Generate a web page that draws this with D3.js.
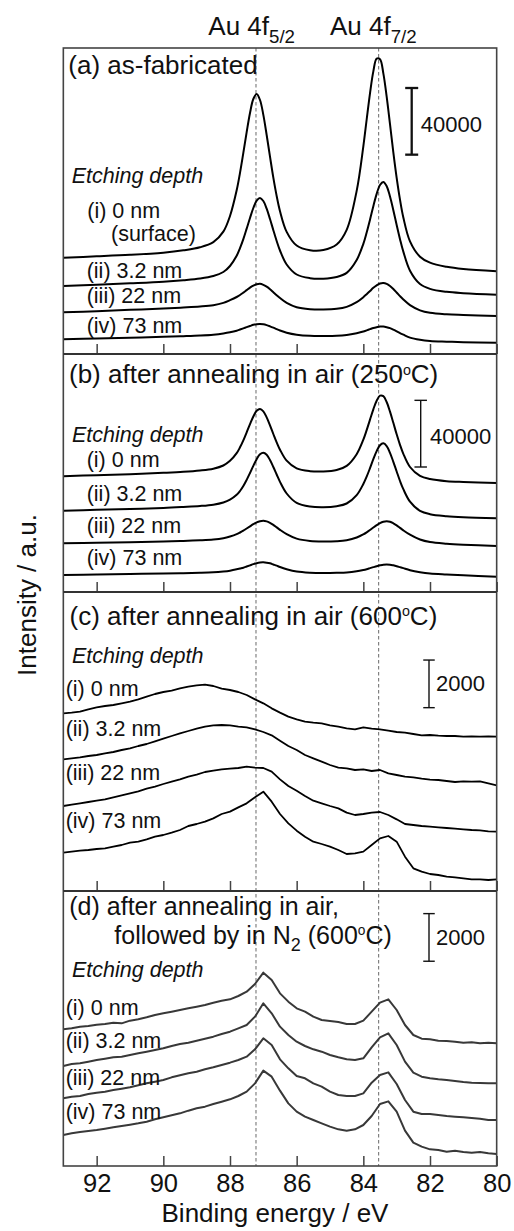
<!DOCTYPE html>
<html>
<head>
<meta charset="utf-8">
<script src="https://cdn.jsdelivr.net/npm/d3@7"></script>
<style>
  html, body { margin: 0; padding: 0; background: #fff; }
  svg text { font-family: "Liberation Sans", Arial, Helvetica, sans-serif; fill: #111; }
</style>
</head>
<body>
<svg id="chart" width="514" height="1231"></svg>
<script>
// Au 4f XPS spectra at four etching depths for four sample treatments.

// Binding-energy sampling (eV): dense around the two Au 4f peaks for the smooth scans (a, b)
const energyFine = [93, 92, 91, 90, 89.4, 88.9, 88.5, 88.2, 88.0, 87.8,
  87.7, 87.6, 87.5, 87.4, 87.3, 87.2, 87.1, 87.0, 86.9, 86.8, 86.7, 86.6, 86.5,
  86.3, 86.0, 85.6, 85.2, 84.8, 84.5, 84.2, 84.0,
  83.9, 83.8, 83.7, 83.6, 83.5, 83.4, 83.3, 83.2, 83.1, 83.0, 82.9, 82.8,
  82.6, 82.3, 82.0, 81.5, 81.0, 80.0];

// Uniform 0.25 eV steps for the noisy scans (c, d)
const energyScan = [93, 92.75, 92.5, 92.25, 92, 91.75, 91.5, 91.25, 91, 90.75,
  90.5, 90.25, 90, 89.75, 89.5, 89.25, 89, 88.75, 88.5, 88.25,
  88, 87.75, 87.5, 87.25, 87, 86.75, 86.5, 86.25, 86, 85.75,
  85.5, 85.25, 85, 84.75, 84.5, 84.25, 84, 83.75, 83.5, 83.25,
  83, 82.75, 82.5, 82.25, 82, 81.75, 81.5, 81.25, 81, 80.75,
  80.5, 80.25, 80];

const xTicks = [92, 90, 88, 86, 84, 82, 80];
const peakRefs = [87.22, 83.54];            // Au 4f5/2, Au 4f7/2 reference positions
const depthLabels = ["(i) 0 nm", "(ii) 3.2 nm", "(iii) 22 nm", "(iv) 73 nm"];
const barA = 40000, barB = 40000, barC = 2000, barD = 2000;   // intensity scale bars (counts)

// (a) as-fabricated  (counts, offset stacked)
const a0  = [57800, 58600, 59500, 60800, 62200, 64000, 67100, 73400, 82800, 98200,
  108700, 120700, 133100, 144600, 153000, 156000, 152400, 143500, 131400, 118400, 105800, 94800, 85700,
  73300, 65100, 62300, 62400, 65700, 74500, 97900, 124600,
  140700, 156400, 169600, 177200, 176900, 168400, 154400, 137900, 121000, 105700, 92600, 81900,
  67600, 58400, 54800, 52300, 51000, 49700];
const a32 = [40800, 41500, 42400, 43400, 44300, 45300, 46800, 49200, 52800, 58900,
  63500, 68900, 75200, 81600, 87600, 92000, 93600, 91800, 87200, 81000, 74300, 67800, 62100,
  53700, 47700, 45500, 45200, 46200, 48700, 56400, 66100,
  72900, 80600, 88700, 96100, 101400, 103200, 100700, 94500, 86300, 77400, 68900, 61400,
  50000, 42000, 39100, 37300, 36500, 35600];
const a22 = [25000, 25700, 26500, 27300, 27900, 28500, 29300, 30700, 32300, 34200,
  35400, 36800, 38300, 39800, 41000, 41800, 42100, 41500, 40400, 38900, 37100, 35300, 33600,
  30700, 28100, 26900, 26700, 27100, 28300, 31100, 34100,
  35900, 37800, 39700, 41200, 42300, 42600, 42100, 40800, 39000, 36900, 34700, 32700,
  29300, 26200, 24700, 23800, 23400, 22800];
const a73 = [8800, 9300, 9800, 10300, 10700, 11100, 11600, 12300, 13000, 14000,
  14700, 15400, 16100, 16800, 17500, 17900, 18000, 17800, 17300, 16600, 15800, 14900, 14100,
  12800, 11600, 10900, 10800, 10900, 11400, 12500, 13500,
  14200, 14900, 15600, 16100, 16500, 16500, 16100, 15500, 14600, 13600, 12500, 11600,
  9800, 8500, 7800, 7400, 7100, 6800];

// (b) after annealing in air, 250 C
const b0  = [69500, 70100, 70700, 71500, 72100, 72900, 74000, 75900, 78700, 83300,
  86800, 91000, 95800, 100700, 105300, 108700, 109800, 108400, 104800, 100000, 94800, 89800, 85400,
  78800, 74200, 72500, 72300, 73200, 75700, 82700, 91400,
  97100, 103400, 109600, 114800, 117800, 117500, 114000, 108200, 101500, 94600, 88300, 82900,
  75000, 69700, 67800, 66500, 66000, 65400];
const b32 = [48800, 49300, 49800, 50400, 51000, 51600, 52400, 53700, 55400, 58300,
  60600, 63600, 67300, 71400, 75700, 79700, 82600, 83600, 82400, 79200, 75000, 70500, 66100,
  59100, 53500, 51300, 50900, 51500, 53100, 58100, 64800,
  69200, 74300, 79700, 84500, 88100, 89200, 87600, 83500, 78100, 72300, 66600, 61700,
  54200, 48700, 46700, 45500, 44900, 44300];
const b22 = [29200, 29500, 29900, 30300, 30600, 31000, 31500, 32300, 33300, 34700,
  35700, 36800, 38100, 39400, 40700, 41800, 42500, 42800, 42400, 41500, 40300, 38800, 37300,
  34700, 32000, 30600, 30300, 30500, 31100, 32700, 34600,
  35800, 37200, 38700, 40100, 41300, 42100, 42400, 42100, 41200, 40000, 38500, 37000,
  34400, 31500, 30000, 29000, 28400, 27600];
const b73 = [10200, 10500, 10800, 11100, 11300, 11500, 11800, 12300, 12800, 13600,
  14100, 14600, 15300, 16000, 16700, 17300, 17700, 17800, 17600, 17200, 16500, 15800, 15000,
  13700, 12300, 11600, 11400, 11500, 11700, 12400, 13200,
  13700, 14300, 14900, 15500, 16000, 16400, 16500, 16400, 16000, 15500, 14900, 14300,
  13100, 11900, 11100, 10500, 10000, 9200];

// (c) after annealing in air, 600 C
const c0  = [7462, 7490, 7532, 7630, 7714, 7770, 7812, 7882, 7952, 8050,
  8162, 8274, 8358, 8414, 8512, 8582, 8638, 8666, 8610, 8498,
  8442, 8358, 8232, 8050, 7882, 7672, 7490, 7322, 7210, 7112,
  7070, 7042, 6958, 6902, 6832, 6790, 6874, 6818, 6790, 6734,
  6678, 6650, 6594, 6538, 6552, 6524, 6510, 6510, 6482, 6496,
  6482, 6496, 6482];
const c32 = [5530, 5572, 5614, 5670, 5712, 5782, 5838, 5922, 5992, 6090,
  6174, 6286, 6398, 6510, 6622, 6720, 6818, 6902, 6958, 6972,
  6958, 6902, 6874, 6790, 6678, 6538, 6314, 6090, 5922, 5712,
  5572, 5432, 5292, 5180, 5152, 5082, 5110, 5040, 5082, 4942,
  4872, 4802, 4774, 4718, 4676, 4662, 4620, 4578, 4606, 4592,
  4606, 4522, 4438];
const c22 = [3570, 3626, 3682, 3738, 3794, 3850, 3934, 4018, 4102, 4186,
  4298, 4382, 4494, 4592, 4690, 4802, 4886, 4998, 5054, 5110,
  5138, 5166, 5222, 5180, 5166, 5012, 4690, 4410, 4214, 3990,
  3794, 3682, 3570, 3472, 3290, 3192, 3234, 3290, 3318, 3192,
  3010, 2814, 2772, 2730, 2702, 2674, 2646, 2618, 2590, 2562,
  2548, 2506, 2492];
const c73 = [1610, 1652, 1694, 1722, 1764, 1792, 1862, 1932, 2030, 2072,
  2170, 2282, 2352, 2450, 2562, 2730, 2814, 2912, 3052, 3234,
  3332, 3514, 3682, 3934, 4172, 3752, 3234, 2842, 2534, 2282,
  2072, 1974, 1862, 1722, 1554, 1582, 1652, 1932, 2212, 2310,
  2072, 1442, 952, 812, 714, 672, 602, 574, 532, 490,
  490, 462, 490];

// (d) after annealing in air, followed by N2, 600 C
const d0  = [5740, 5782, 5852, 5880, 5936, 5964, 6020, 5992, 6104, 6160,
  6244, 6342, 6412, 6482, 6552, 6622, 6692, 6762, 6860, 6944,
  7000, 7140, 7322, 7644, 8120, 7812, 7252, 6902, 6622, 6482,
  6272, 6132, 6090, 6048, 5964, 5964, 6104, 6482, 6860, 7000,
  6552, 5922, 5502, 5348, 5320, 5264, 5250, 5222, 5180, 5194,
  5152, 5180, 5152];
const d32 = [4200, 4284, 4312, 4382, 4452, 4508, 4564, 4592, 4662, 4732,
  4802, 4872, 4942, 5040, 5124, 5180, 5264, 5348, 5432, 5544,
  5642, 5782, 5922, 6272, 6832, 6412, 5852, 5502, 5222, 5040,
  4900, 4802, 4662, 4564, 4480, 4452, 4522, 4984, 5404, 5572,
  5082, 4382, 3920, 3752, 3682, 3640, 3612, 3570, 3528, 3500,
  3486, 3472, 3472];
const d22 = [2842, 2912, 2940, 3024, 3080, 3122, 3192, 3248, 3304, 3388,
  3472, 3542, 3612, 3724, 3808, 3892, 3962, 4060, 4144, 4242,
  4340, 4452, 4592, 4900, 5362, 5082, 4480, 4102, 3780, 3682,
  3472, 3332, 3122, 2982, 2940, 2940, 3052, 3500, 3822, 3934,
  3444, 2772, 2282, 2184, 2184, 2142, 2100, 2072, 2044, 2016,
  1988, 1932, 1932];
const d73 = [1302, 1372, 1428, 1470, 1512, 1568, 1624, 1680, 1736, 1792,
  1862, 1960, 2044, 2128, 2212, 2324, 2422, 2492, 2604, 2702,
  2800, 2940, 3122, 3472, 4004, 3752, 3164, 2632, 2282, 2072,
  1932, 1792, 1652, 1540, 1484, 1540, 1722, 2100, 2604, 2716,
  2282, 1484, 980, 812, 700, 672, 602, 644, 588, 560,
  588, 532, 504];

// ---------------------------------------------------------------- layout
const plotLeft = 63.33, plotRight = 496.67, plotTop = 48, plotBottom = 1166;
const FS_TITLE = 26, FS_LABEL = 21.5;

const panels = [
  { top: 48, bottom: 354, yMax: 183600, energy: energyFine, series: [a0, a32, a22, a73],
    smooth: true, stroke: "#000", lw: 2,
    title: [{ x: 68.3, y: 74, segs: [{ t: "(a) as-fabricated" }] }], titleSize: FS_TITLE,
    etch: [71.7, 182.7],
    labels: [
      { lines: [{ x: 87.3, y: 218.3, t: depthLabels[0] }, { x: 111, y: 240.7, t: "(surface)" }] },
      { lines: [{ x: 86.7, y: 278.3, t: depthLabels[1] }] },
      { lines: [{ x: 86.7, y: 303.3, t: depthLabels[2] }] },
      { lines: [{ x: 86.7, y: 332.7, t: depthLabels[3] }] }],
    bar: { value: barA, base: 119600, x: 411.7, lw: 2.3, cap: 13, lx: 420.7, ly: 131.5 } },
  { top: 354, bottom: 592, yMax: 142800, energy: energyFine, series: [b0, b32, b22, b73],
    smooth: true, stroke: "#000", lw: 2,
    title: [{ x: 69, y: 383.3, segs: [{ t: "(b) after annealing in air (250" }, { t: "o", s: "sup" }, { t: "C)" }] }],
    titleSize: FS_TITLE,
    etch: [72, 441.7],
    labels: [
      { lines: [{ x: 86.7, y: 466.7, t: depthLabels[0] }] },
      { lines: [{ x: 86.7, y: 501, t: depthLabels[1] }] },
      { lines: [{ x: 86.7, y: 533.3, t: depthLabels[2] }] },
      { lines: [{ x: 86.7, y: 565, t: depthLabels[3] }] }],
    bar: { value: barB, base: 75000, x: 420.7, lw: 1.4, cap: 12.5, lx: 430, ly: 444 } },
  { top: 592, bottom: 891, yMax: 12558, energy: energyScan, series: [c0, c32, c22, c73],
    smooth: false, stroke: "#000", lw: 1.8,
    title: [{ x: 69.5, y: 625, segs: [{ t: "(c) after annealing in air (600" }, { t: "o", s: "sup" }, { t: "C)" }] }],
    titleSize: FS_TITLE,
    etch: [72, 662.7],
    labels: [
      { lines: [{ x: 65.7, y: 695.7, t: depthLabels[0] }] },
      { lines: [{ x: 65.7, y: 736, t: depthLabels[1] }] },
      { lines: [{ x: 65.7, y: 780, t: depthLabels[2] }] },
      { lines: [{ x: 65.7, y: 827.7, t: depthLabels[3] }] }],
    bar: { value: barC, base: 7700, x: 429, lw: 1.4, cap: 11.5, lx: 436, ly: 690.8 } },
  { top: 891, bottom: 1166, yMax: 11550, energy: energyScan, series: [d0, d32, d22, d73],
    smooth: false, stroke: "#383838", lw: 2,
    title: [{ x: 69.3, y: 915.3, segs: [{ t: "(d) after annealing in air," }] },
            { x: 114.3, y: 943.6, segs: [{ t: "followed by in N" }, { t: "2", s: "sub" }, { t: " (600" }, { t: "o", s: "sup" }, { t: "C)" }] }],
    titleSize: 25,
    etch: [72, 977.3],
    labels: [
      { lines: [{ x: 65.7, y: 1015, t: depthLabels[0] }] },
      { lines: [{ x: 65.7, y: 1048.3, t: depthLabels[1] }] },
      { lines: [{ x: 65.7, y: 1085, t: depthLabels[2] }] },
      { lines: [{ x: 65.7, y: 1118.5, t: depthLabels[3] }] }],
    bar: { value: barD, base: 8600, x: 429, lw: 1.4, cap: 11.5, lx: 436, ly: 945 } }
];

// ---------------------------------------------------------------- drawing
const svg = d3.select("#chart");
const x = d3.scaleLinear().domain([93, 80]).range([plotLeft, plotRight]);

// One <text> per block; each line starts with an absolutely placed tspan,
// super/subscripts are shifted tspans within the line.
function richLines(parent, lines, size) {
  const t = parent.append("text").attr("font-size", size);
  lines.forEach(line => {
    let shift = 0;
    line.segs.forEach((s, k) => {
      const target = s.s === "sup" ? -0.33 * size : s.s === "sub" ? 0.3 * size : 0;
      const ts = t.append("tspan").text(s.t);
      if (k === 0) ts.attr("x", line.x).attr("y", line.y + target);
      else ts.attr("dy", target - shift);
      if (s.s === "sup") ts.attr("font-size", size * 0.55);
      if (s.s === "sub") ts.attr("font-size", size * 0.72);
      shift = target;
    });
  });
  return t;
}

// peak reference lines through all panels
svg.append("g").selectAll("line").data(peakRefs).join("line")
  .attr("x1", d => x(d)).attr("x2", d => x(d))
  .attr("y1", plotTop).attr("y2", plotBottom)
  .attr("stroke", "#6a6a6a").attr("stroke-width", 1).attr("stroke-dasharray", "3.5,2.5");

panels.forEach((p, pi) => {
  const g = svg.append("g");
  const y = d3.scaleLinear().domain([0, p.yMax]).range([p.bottom, p.top]);

  const line = d3.line()
    .x((d, i) => x(p.energy[i]))
    .y(d => y(d))
    .curve(p.smooth ? d3.curveCatmullRom.alpha(0.5) : d3.curveLinear);

  g.selectAll("path.spec").data(p.series).join("path")
    .attr("class", "spec")
    .attr("d", d => line(d))
    .attr("fill", "none").attr("stroke", p.stroke)
    .attr("stroke-width", p.lw).attr("stroke-linejoin", "round");

  // ticks along the bottom of each panel, pointing inward
  const axis = d3.axisBottom(x).tickValues(xTicks).tickSizeInner(-10).tickSizeOuter(0)
    .tickFormat(d3.format("d"));
  const ax = g.append("g").attr("transform", `translate(0,${p.bottom})`).call(axis);
  ax.select(".domain").remove();
  ax.selectAll(".tick line").attr("stroke", "#444").attr("stroke-width", 1.5);
  if (pi === panels.length - 1) {
    ax.selectAll(".tick text")
      .attr("y", 25.7).attr("dy", 0)
      .attr("font-size", 25.5).attr("fill", "#111")
      .attr("font-family", "\"Liberation Sans\", Arial, sans-serif");
  } else {
    ax.selectAll(".tick text").remove();
  }

  // panel title (one text block, possibly two lines)
  richLines(g, p.title, p.titleSize);

  // etching depth heading and depth labels
  g.append("text").attr("x", p.etch[0]).attr("y", p.etch[1])
    .attr("font-size", FS_LABEL).attr("font-style", "italic").text("Etching depth");
  p.labels.forEach(l => {
    const t = g.append("text").attr("font-size", FS_LABEL);
    l.lines.forEach(ln => t.append("tspan").attr("x", ln.x).attr("y", ln.y).text(ln.t));
  });

  // intensity scale bar
  const b = p.bar;
  const y0 = y(b.base), y1 = y(b.base + b.value);
  const bg = g.append("g").attr("stroke", "#111").attr("stroke-width", b.lw);
  bg.append("line").attr("x1", b.x).attr("x2", b.x).attr("y1", y0).attr("y2", y1);
  bg.append("line").attr("x1", b.x - b.cap / 2).attr("x2", b.x + b.cap / 2).attr("y1", y0).attr("y2", y0);
  bg.append("line").attr("x1", b.x - b.cap / 2).attr("x2", b.x + b.cap / 2).attr("y1", y1).attr("y2", y1);
  g.append("text").attr("x", b.lx).attr("y", b.ly).attr("font-size", 22)
    .text(d3.format("d")(b.value));
});

// frame and panel separators
svg.append("rect")
  .attr("x", plotLeft).attr("y", plotTop)
  .attr("width", plotRight - plotLeft).attr("height", plotBottom - plotTop)
  .attr("fill", "none").attr("stroke", "#444").attr("stroke-width", 1.6);
svg.append("g").selectAll("line").data(panels.slice(1)).join("line")
  .attr("x1", plotLeft).attr("x2", plotRight)
  .attr("y1", d => d.top).attr("y2", d => d.top)
  .attr("stroke", "#333").attr("stroke-width", 2.2);

// peak names above the frame
richLines(svg, [{ x: 208.3, y: 35, segs: [{ t: "Au 4f" }, { t: "5/2", s: "sub" }] }], FS_TITLE);
richLines(svg, [{ x: 330, y: 35, segs: [{ t: "Au 4f" }, { t: "7/2", s: "sub" }] }], FS_TITLE);

// axis titles
svg.append("text").attr("x", 275).attr("y", 1221.7).attr("text-anchor", "middle")
  .attr("font-size", FS_TITLE).text("Binding energy / eV");
svg.append("text").attr("transform", "translate(36,595) rotate(-90)").attr("text-anchor", "middle")
  .attr("font-size", FS_TITLE).text("Intensity / a.u.");
</script>
</body>
</html>
